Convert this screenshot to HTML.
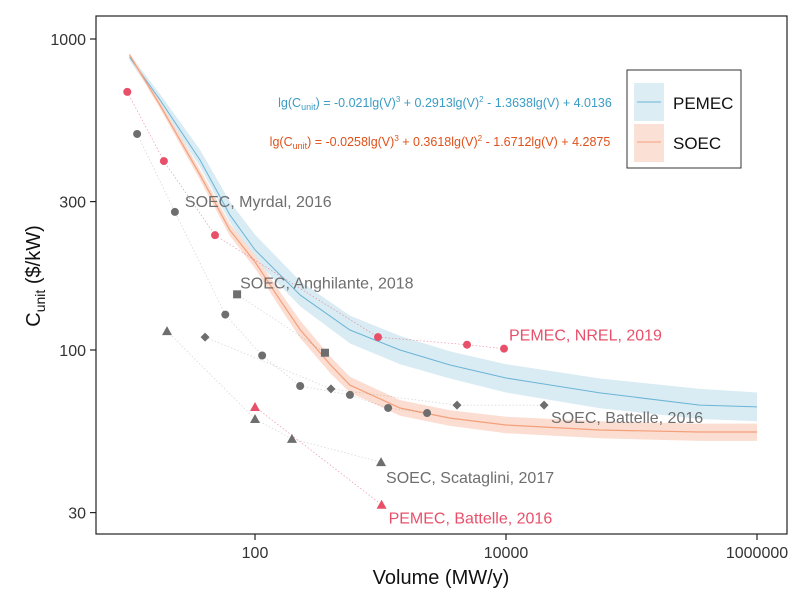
<!DOCTYPE html>
<html><head><meta charset="utf-8">
<style>
body{margin:0;background:#fff;}
svg text{font-family:"Liberation Sans",Arial,sans-serif;}
</style></head>
<body>
<svg id="chart" width="798" height="597" xmlns="http://www.w3.org/2000/svg">
<rect x="0" y="0" width="798" height="597" fill="#fff"/>
<g id="bands"></g>
<g id="lines"></g>
<g id="points"></g>
<rect x="96" y="16" width="691" height="518" fill="none" stroke="#222" stroke-width="1.2"/>
<g id="axes"></g>
<text x="441" y="584" font-size="20" text-anchor="middle" fill="#111">Volume (MW/y)</text>
<text transform="translate(40,276) rotate(-90)" font-size="20" text-anchor="middle" fill="#111">C<tspan font-size="14" dy="5">unit</tspan><tspan dy="-5"> ($/kW)</tspan></text>
<text x="445" y="107" font-size="12.5" text-anchor="middle" fill="#3a9cc5">lg(C<tspan font-size="9" dy="3">unit</tspan><tspan dy="-3">) = -0.021lg(V)</tspan><tspan font-size="8" dy="-5">3</tspan><tspan dy="5"> + 0.2913lg(V)</tspan><tspan font-size="8" dy="-5">2</tspan><tspan dy="5"> - 1.3638lg(V) + 4.0136</tspan></text>
<text x="440" y="146" font-size="12.5" text-anchor="middle" fill="#e0501a">lg(C<tspan font-size="9" dy="3">unit</tspan><tspan dy="-3">) = -0.0258lg(V)</tspan><tspan font-size="8" dy="-5">3</tspan><tspan dy="5"> + 0.3618lg(V)</tspan><tspan font-size="8" dy="-5">2</tspan><tspan dy="5"> - 1.6712lg(V) + 4.2875</tspan></text>
<g>
<rect x="627" y="70" width="114" height="98" fill="#fff" stroke="#333" stroke-width="1"/>
<rect x="634" y="83" width="30" height="38" fill="#ddedf4"/>
<line x1="637" y1="102" x2="661" y2="102" stroke="#6bb5d6" stroke-width="1"/>
<text x="673" y="109" font-size="17" fill="#111">PEMEC</text>
<rect x="634" y="124" width="30" height="38" fill="#fbe0d6"/>
<line x1="637" y1="142" x2="661" y2="142" stroke="#f4a07a" stroke-width="1"/>
<text x="673" y="149" font-size="17" fill="#111">SOEC</text>
</g>
</svg>
<script>
// ---- data ----
const curveV = [10, 17.5, 36.5, 63, 100, 230, 570, 1430, 3580, 10000, 56000, 350000, 1000000];
const pemecMean = [875, 637, 408, 272, 210, 150, 116, 100, 89.5, 81.3, 72.8, 66.5, 65.6];
const pemecHi   = [895, 665, 440, 300, 235, 166, 129, 111, 99, 90, 81, 75, 73];
const pemecLo   = [855, 612, 388, 258, 195, 138, 105, 90, 81, 73, 65, 60, 59];
const soecV = [10, 17.5, 36.5, 63, 100, 158, 230, 400, 570, 1430, 3580, 10000, 56000, 350000, 1000000];
const soecMean = [889, 613, 365, 243, 192, 145, 116, 89.5, 77.1, 65.1, 60.4, 57.4, 55.3, 54.5, 54.5];
const soecHi   = [905, 630, 380, 255, 202, 154, 124, 95, 82, 69, 64, 61, 59, 58, 58];
const soecLo   = [872, 598, 352, 233, 183, 137, 109, 84, 73, 61.5, 57, 54, 52, 51, 51];

const nrelV = [9.6, 18.8, 48, 955, 4890, 9640];
const nrelC = [676, 405, 234, 110, 104, 101];
const myrdalV = [11.5, 23, 58, 114, 229, 571, 1150, 2350];
const myrdalC = [495, 278, 130, 96, 76.6, 71.7, 65.1, 62.7];
const anghV = [72, 361];
const anghC = [151, 98];
const battSoecV = [40, 403, 4070, 20100];
const battSoecC = [110, 75, 66.5, 66.5];
const scatV = [19.9, 100, 197, 1010];
const scatC = [115, 60, 51.8, 43.6];
const battPemV = [100, 1020];
const battPemC = [65.6, 31.8];

const xTicks = [100, 10000, 1000000];
const xTickLabels = ["100", "10000", "1000000"];
const yTicks = [30, 100, 300, 1000];
const yTickLabels = ["30", "100", "300", "1000"];

// ---- scales ----
function X(v){ return 255 + 125.5 * (Math.log10(v) - 2); }
function Y(c){ return 350 - 311 * (Math.log10(c) - 2); }
const NS = "http://www.w3.org/2000/svg";
function mk(tag, attrs, parent){
  const e = document.createElementNS(NS, tag);
  for (const k in attrs) e.setAttribute(k, attrs[k]);
  parent.appendChild(e); return e;
}
const bands = document.getElementById('bands');
const lines = document.getElementById('lines');
const pts = document.getElementById('points');
const axes = document.getElementById('axes');

function band(vs, hi, lo, fill, name){
  let d = vs.map((v,i)=>(i?'L':'M')+X(v).toFixed(1)+','+Y(hi[i]).toFixed(1)).join('');
  for (let i = vs.length-1; i >= 0; i--) d += 'L'+X(vs[i]).toFixed(1)+','+Y(lo[i]).toFixed(1);
  const p = mk('path', {d: d+'Z', fill: fill}, bands);
  
  
}
function line(vs, cs, stroke, w, dash, name, parent, op){
  const d = vs.map((v,i)=>(i?'L':'M')+X(v).toFixed(1)+','+Y(cs[i]).toFixed(1)).join('');
  const p = mk('path', {d: d, fill: 'none', stroke: stroke, 'stroke-width': w}, parent);
  if (dash) p.setAttribute('stroke-dasharray', dash);
  if (op) p.setAttribute('stroke-opacity', op);
  
  
}
band(curveV, pemecHi, pemecLo, '#d9ebf3', 'pemec-ci-band');
band(soecV, soecHi, soecLo, '#fbddd1', 'soec-ci-band');
line(curveV, pemecMean, '#6bb5d6', 1, null, 'pemec-fit-line', lines);
line(soecV, soecMean, '#f4a07a', 1.2, null, 'soec-fit-line', lines);

const RED = '#e8506a', GRAY = '#6e6e6e';
function series(vs, cs, color, shape, name){
  line(vs, cs, color, 0.7, '1.5,2', name + '-connector', pts, color === RED ? 0.6 : 0.3);
  vs.forEach((v,i)=>{
    const x = X(v), y = Y(cs[i]); let e;
    if (shape === 'circle') e = mk('circle', {cx:x, cy:y, r:4, fill:color}, pts);
    else if (shape === 'square') e = mk('rect', {x:x-4, y:y-4, width:8, height:8, fill:color}, pts);
    else if (shape === 'diamond') e = mk('path', {d:`M${x},${y-4.5}L${x+4.5},${y}L${x},${y+4.5}L${x-4.5},${y}Z`, fill:color}, pts);
    else e = mk('path', {d:`M${x},${y-5}L${x+5},${y+4}L${x-5},${y+4}Z`, fill:color}, pts);
    
    
  });
}
series(nrelV, nrelC, RED, 'circle', 'pemec-nrel-2019');
series(myrdalV, myrdalC, GRAY, 'circle', 'soec-myrdal-2016');
series(anghV, anghC, GRAY, 'square', 'soec-anghilante-2018');
series(battSoecV, battSoecC, GRAY, 'diamond', 'soec-battelle-2016');
series(scatV, scatC, GRAY, 'triangle', 'soec-scataglini-2017');
series(battPemV, battPemC, RED, 'triangle', 'pemec-battelle-2016');

function label(txt, x, y, color, name){
  const t = mk('text', {x:x, y:y, 'font-size':16, fill:color}, pts);
  t.textContent = txt;
  
  
}
label('SOEC, Myrdal, 2016', X(myrdalV[1])+10, Y(myrdalC[1])-5, GRAY, 'label-soec-myrdal');
label('SOEC, Anghilante, 2018', X(anghV[0])+3, Y(anghC[0])-6, GRAY, 'label-soec-anghilante');
label('PEMEC, NREL, 2019', X(nrelV[5])+5, Y(nrelC[5])-8, RED, 'label-pemec-nrel');
label('SOEC, Battelle, 2016', X(battSoecV[3])+7, Y(battSoecC[3])+18, GRAY, 'label-soec-battelle');
label('SOEC, Scataglini, 2017', X(scatV[3])+5, Y(scatC[3])+21, GRAY, 'label-soec-scataglini');
label('PEMEC, Battelle, 2016', X(battPemV[1])+7, Y(battPemC[1])+19, RED, 'label-pemec-battelle');

xTicks.forEach((v,i)=>{
  const x = X(v);
  const l = mk('line', {x1:x, y1:534, x2:x, y2:540, stroke:'#222', 'stroke-width':1.2}, axes);
  
  
  const t = mk('text', {x:x, y:558, 'font-size':16, 'text-anchor':'middle', fill:'#333'}, axes);
  t.textContent = xTickLabels[i];
  
  
});
yTicks.forEach((c,i)=>{
  const y = Y(c);
  const l = mk('line', {x1:90, y1:y, x2:96, y2:y, stroke:'#222', 'stroke-width':1.2}, axes);
  
  
  const t = mk('text', {x:86, y:y+6, 'font-size':16, 'text-anchor':'end', fill:'#333'}, axes);
  t.textContent = yTickLabels[i];
  
  
});
</script>
</body></html>
